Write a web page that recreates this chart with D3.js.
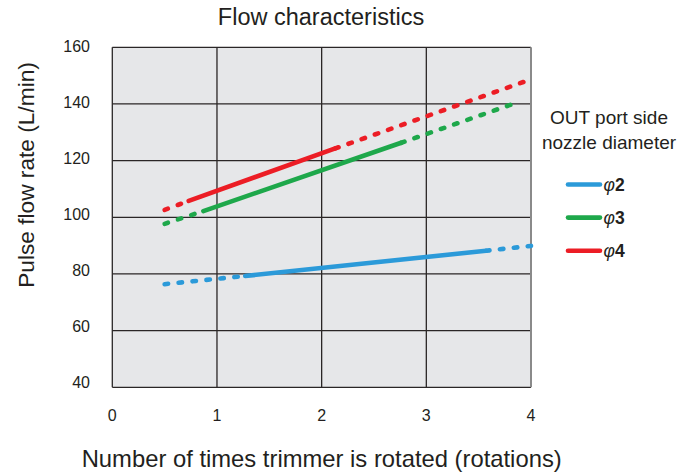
<!DOCTYPE html>
<html>
<head>
<meta charset="utf-8">
<script src="https://cdn.jsdelivr.net/npm/d3@7"></script>
<style>
  html, body { margin: 0; padding: 0; background: #fff; }
  svg { display: block; font-family: "Liberation Sans", Arial, Helvetica, sans-serif; }
</style>
</head>
<body>
<svg id="chart" width="693" height="475"></svg>
<script>
// ---- data ----
const xTicks = [0, 1, 2, 3, 4];
const yTicks = [40, 60, 80, 100, 120, 140, 160];
const seriesNames = ["2", "3", "4"];
const seriesColors = ["#2b9ad9", "#1ea84b", "#ec1d25"];
// each series: dotted start segment, solid segment, dotted end segment (rotations, L/min)
const phi2Dotted1 = [[0.5, 76.4], [1.27, 79.3]];
const phi2Solid   = [[1.27, 79.3], [3.57, 88.2]];
const phi2Dotted2 = [[3.57, 88.2], [4.0, 89.9]];
const phi3Dotted1 = [[0.5, 97.7], [0.87, 102.2]];
const phi3Solid   = [[0.87, 102.2], [2.76, 126.3]];
const phi3Dotted2 = [[2.76, 126.3], [3.89, 140.8]];
const phi4Dotted1 = [[0.5, 102.6], [0.73, 105.8]];
const phi4Solid   = [[0.73, 105.8], [2.13, 124.3]];
const phi4Dotted2 = [[2.13, 124.3], [4.0, 148.7]];

const series = [
  { name: seriesNames[0], color: seriesColors[0], dotted: [phi2Dotted1, phi2Dotted2], solid: phi2Solid },
  { name: seriesNames[1], color: seriesColors[1], dotted: [phi3Dotted1, phi3Dotted2], solid: phi3Solid },
  { name: seriesNames[2], color: seriesColors[2], dotted: [phi4Dotted1, phi4Dotted2], solid: phi4Solid }
];

// ---- layout ----
const svg = d3.select("#chart");
const pLeft = 112.3, pRight = 531, pTop = 47.3, pBottom = 387.3;
const x = d3.scaleLinear().domain([0, 4]).range([pLeft, pRight]);
const y = d3.scaleLinear().domain([40, 160]).range([pBottom, pTop]);

// plot background
svg.append("rect")
  .attr("x", pLeft).attr("y", pTop)
  .attr("width", pRight - pLeft).attr("height", pBottom - pTop)
  .attr("fill", "#e6e7e9");

// grid
const grid = svg.append("g");
grid.selectAll("line.h").data(yTicks).join("line")
  .attr("x1", pLeft).attr("x2", pRight)
  .attr("y1", d => y(d)).attr("y2", d => y(d))
  .attr("stroke", "#2a2626").attr("stroke-width", 1.3);
grid.selectAll("line.v").data(xTicks).join("line")
  .attr("y1", pTop).attr("y2", pBottom)
  .attr("x1", d => x(d)).attr("x2", d => x(d))
  .attr("stroke", d => d === 4 ? "#8a8a8a" : "#2a2626")
  .attr("stroke-width", d => d === 4 ? 2 : 1.3);

// axis labels (tick values)
svg.append("g").selectAll("text").data(yTicks).join("text")
  .attr("x", 90)
  .attr("y", d => y(d) - 3 + (d - 100) / 30)
  .attr("text-anchor", "end")
  .attr("dominant-baseline", "central")
  .attr("font-size", 16)
  .attr("fill", "#231f20")
  .text(d => d);

svg.append("g").selectAll("text").data(xTicks).join("text")
  .attr("x", d => x(d))
  .attr("y", 415)
  .attr("text-anchor", "middle")
  .attr("dominant-baseline", "central")
  .attr("font-size", 16)
  .attr("fill", "#231f20")
  .text(d => d);

// lines
const line = d3.line().x(d => x(d[0])).y(d => y(d[1]));
const linesG = svg.append("g");
series.forEach(s => {
  s.dotted.forEach(seg => {
    linesG.append("path")
      .attr("d", line(seg))
      .attr("fill", "none")
      .attr("stroke", s.color)
      .attr("stroke-width", 4.6)
      .attr("stroke-linecap", "round")
      .attr("stroke-dasharray", "3.5 10.5");
  });
  linesG.append("path")
    .attr("d", line(s.solid))
    .attr("fill", "none")
    .attr("stroke", s.color)
    .attr("stroke-width", 4.6)
    .attr("stroke-linecap", "round");
});

// titles
svg.append("text")
  .attr("x", 321).attr("y", 25)
  .attr("text-anchor", "middle")
  .attr("font-size", 23.5)
  .attr("fill", "#231f20")
  .text("Flow characteristics");

svg.append("text")
  .attr("x", 321.7).attr("y", 467)
  .attr("text-anchor", "middle")
  .attr("font-size", 23.8)
  .attr("fill", "#231f20")
  .text("Number of times trimmer is rotated (rotations)");

svg.append("text")
  .attr("transform", "translate(34,175) rotate(-90)")
  .attr("text-anchor", "middle")
  .attr("font-size", 22.7)
  .attr("fill", "#231f20")
  .text("Pulse flow rate (L/min)");

// legend
const lg = svg.append("g");
lg.append("text").attr("x", 609).attr("y", 124).attr("text-anchor", "middle")
  .attr("font-size", 19).attr("fill", "#231f20").text("OUT port side");
lg.append("text").attr("x", 609).attr("y", 149).attr("text-anchor", "middle")
  .attr("font-size", 19).attr("fill", "#231f20").text("nozzle diameter");

const legendY = d3.scalePoint().domain(seriesNames).range([184.5, 250.7]);
series.forEach(s => {
  lg.append("line")
    .attr("x1", 568).attr("x2", 600)
    .attr("y1", legendY(s.name)).attr("y2", legendY(s.name))
    .attr("stroke", s.color).attr("stroke-width", 4.6)
    .attr("stroke-linecap", "round");
  const t = lg.append("text")
    .attr("x", 603.5).attr("y", legendY(s.name))
    .attr("dominant-baseline", "central")
    .attr("font-size", 17.5).attr("fill", "#231f20");
  t.append("tspan").attr("font-style", "italic").text("φ");
  t.append("tspan").attr("font-weight", "bold").text(s.name);
});
</script>
</body>
</html>
